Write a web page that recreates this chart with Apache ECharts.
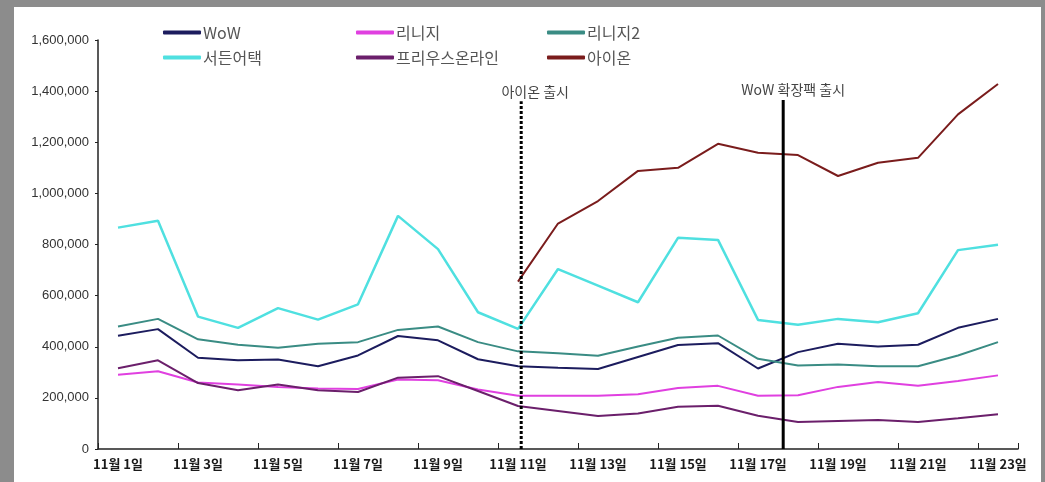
<!DOCTYPE html>
<html>
<head>
<meta charset="utf-8">
<script src="https://cdn.jsdelivr.net/npm/echarts@6/dist/echarts.min.js"></script>
<style>
  html, body { margin: 0; padding: 0; }
  body { width: 1045px; height: 482px; background: #8c8c8c; position: relative; overflow: hidden; }
  #paper { position: absolute; left: 14px; top: 7px; width: 1027px; height: 475px; background: #ffffff; }
  #chart { position: absolute; left: 0; top: 0; width: 1045px; height: 482px; }
</style>
</head>
<body>
<div id="paper"></div>
<div id="chart"></div>
<script>
// ---- data ----
const categories = ['11월 1일','11월 2일','11월 3일','11월 4일','11월 5일','11월 6일','11월 7일','11월 8일','11월 9일','11월 10일','11월 11일','11월 12일','11월 13일','11월 14일','11월 15일','11월 16일','11월 17일','11월 18일','11월 19일','11월 20일','11월 21일','11월 22일','11월 23일'];
const seriesNames = ['WoW','리니지','리니지2','서든어택','프리우스온라인','아이온'];
const wow      = [443000,469000,357000,347000,350000,324000,366000,442000,425000,351000,324000,318000,313000,360000,407000,414000,315000,379000,412000,401000,408000,474000,509000];
const lineage  = [290000,304000,260000,252000,243000,237000,235000,272000,269000,233000,208000,208000,208000,214000,239000,247000,208000,210000,243000,262000,247000,266000,288000];
const lineage2 = [479000,509000,429000,408000,396000,412000,418000,466000,479000,418000,382000,375000,365000,401000,435000,444000,353000,327000,331000,324000,324000,366000,418000];
const sudden   = [866000,893000,518000,474000,551000,506000,566000,912000,782000,535000,470000,704000,639000,574000,826000,818000,505000,486000,509000,496000,531000,778000,799000];
const freestyle= [316000,347000,258000,230000,252000,230000,223000,279000,285000,227000,168000,149000,129000,139000,165000,169000,130000,106000,110000,113000,106000,120000,136000];
const aion     = [null,null,null,null,null,null,null,null,null,null,655000,882000,970000,1088000,1100000,1194000,1159000,1150000,1068000,1120000,1139000,1309000,1428000];
const yTicks = { min: 0, max: 1600000, interval: 200000 };
// event markers: position on category index scale, top value, label
const markerNames = ['아이온 출시','WoW 확장팩 출시'];
const markerIndex = [10.08, 16.63];
const markerTop   = [1360000, 1365000];

// ---- styles ----
const colors = ['#1c1c5e','#e040e0','#3a8c84','#4fe0e0','#6b1f6b','#7a1c1c'];
const seriesData = [wow, lineage, lineage2, sudden, freestyle, aion];
const fontKR = '"Noto Sans CJK KR", "Liberation Sans", sans-serif';

const lineSeries = seriesNames.map((n, i) => ({
  name: n, type: 'line', data: seriesData[i], symbol: 'none',
  lineStyle: { color: colors[i], width: i === 3 ? 2.5 : 2 },
  itemStyle: { color: colors[i] },
  connectNulls: false, z: 3
}));

const markerStyles = [
  { color: '#000', width: 3, type: [3, 2] },
  { color: '#000', width: 3, type: 'solid' }
];
const markerOffsets = [[14, 2], [10, 2]];
const markerSeries = markerNames.map((n, i) => ({
  name: n, type: 'line', xAxisIndex: 1, yAxisIndex: 0,
  symbol: 'circle', symbolSize: 0.01, showSymbol: true,
  lineStyle: markerStyles[i], itemStyle: { color: '#000' },
  data: [
    { value: [markerIndex[i], 0] },
    { value: [markerIndex[i], markerTop[i]],
      label: { show: true, position: 'top', formatter: n, offset: markerOffsets[i],
               color: '#444', fontSize: 14, fontFamily: fontKR } }
  ],
  z: 4, silent: true
}));

function legendCol(left, names) {
  return {
    left: left, top: 19, orient: 'vertical', data: names,
    itemWidth: 38, itemHeight: 4, itemGap: 8, icon: 'roundRect',
    textStyle: { color: '#555', fontSize: 16, fontFamily: fontKR, lineHeight: 17, padding: [0,0,0,-3] },
    selectedMode: false
  };
}

const chart = echarts.init(document.getElementById('chart'), null, { renderer: 'canvas' });
chart.setOption({
  animation: false,
  backgroundColor: 'transparent',
  color: colors,
  legend: [
    legendCol(158, [seriesNames[0], seriesNames[3]]),
    legendCol(351, [seriesNames[1], seriesNames[4]]),
    legendCol(542, [seriesNames[2], seriesNames[5]])
  ],
  grid: { left: 98, right: 27, top: 40, bottom: 33, containLabel: false },
  xAxis: [{
    type: 'category', data: categories, boundaryGap: true,
    axisLine: { lineStyle: { color: '#222', width: 1.5 } },
    axisTick: { show: true, inside: true, length: 6, interval: 1, lineStyle: { color: '#222' } },
    axisLabel: { interval: 1, color: '#1a1a1a', fontSize: 13, fontWeight: 'bold', fontFamily: fontKR, margin: 9 },
    splitLine: { show: false }
  }, {
    type: 'value', min: -0.5, max: categories.length - 0.5, show: false
  }],
  yAxis: [{
    type: 'value', min: yTicks.min, max: yTicks.max, interval: yTicks.interval,
    axisLine: { show: true, onZero: false, lineStyle: { color: '#222', width: 1.5 } },
    axisTick: { show: true, length: 3, lineStyle: { color: '#222' } },
    axisLabel: { color: '#333', fontSize: 13, fontFamily: '"Liberation Sans", Arial, sans-serif', margin: 9,
      formatter: v => v.toLocaleString('en-US') },
    splitLine: { show: false }
  }],
  series: lineSeries.concat(markerSeries)
});
</script>
</body>
</html>
